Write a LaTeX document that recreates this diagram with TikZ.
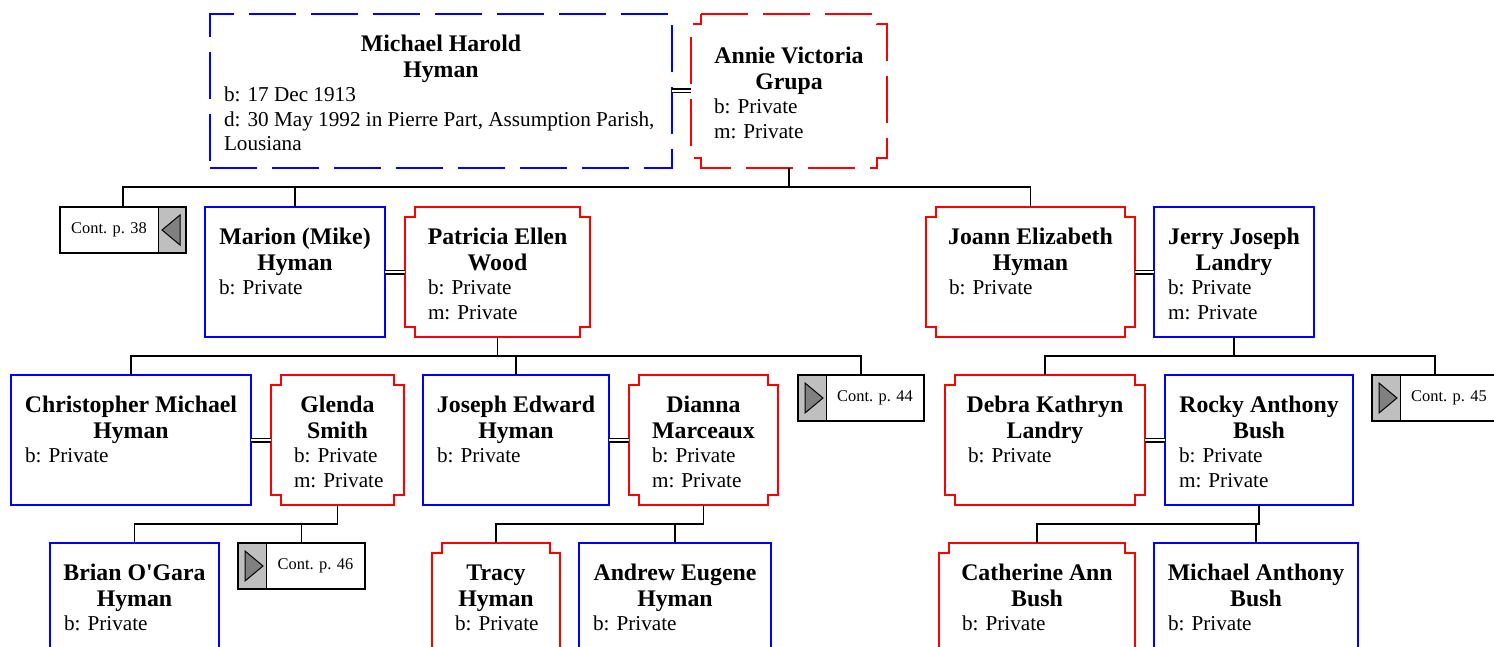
\documentclass[tikz,border=0pt]{standalone}
\usepackage{fontspec}
\setmainfont{Liberation Serif}[Ligatures=TeXOff]

\newlength{\whopad}
\newcommand{\namefont}{\fontsize{23.8pt}{26pt}\selectfont\bfseries}
\newcommand{\infofont}{\fontsize{21.2pt}{24.5pt}\selectfont}
% [top gap]{width}{height}{name}{details}
\newcommand{\who}[5][19pt]{\parbox[c][#3][t]{#2}{\vspace*{#1}%
  {\centering\namefont\strut #4\par}%
  {\raggedright\infofont\leftskip=\whopad #5\par}}}
% red outline with stepped corners round a node
\newcommand{\notch}[2][]{\draw[femaleline,#1] ([xshift=10pt]#2.north west) -- ([xshift=-10pt]#2.north east)
  -- ([xshift=-10pt,yshift=-10pt]#2.north east) -- ([yshift=-10pt]#2.north east)
  -- ([yshift=10pt]#2.south east) -- ([xshift=-10pt,yshift=10pt]#2.south east)
  -- ([xshift=-10pt]#2.south east) -- ([xshift=10pt]#2.south west)
  -- ([xshift=10pt,yshift=10pt]#2.south west) -- ([yshift=10pt]#2.south west)
  -- ([yshift=-10pt]#2.north west) -- ([xshift=10pt,yshift=-10pt]#2.north west) -- cycle;}

\begin{document}
\begin{tikzpicture}[x=1pt,y=-1pt,
  person/.style={anchor=north west,inner sep=0pt,outer sep=0pt,line width=1.6pt},
  male/.style={person,draw=blue,execute at begin node={\setlength{\whopad}{14pt}}},
  female/.style={person,execute at begin node={\setlength{\whopad}{23pt}}},
  femaleline/.style={draw=red,line width=1.6pt},
  dashedbox/.style={dash pattern=on 47pt off 15pt},
  married/.style={double,double distance=2.4pt,line width=1.3pt},
  kin/.style={line width=1.8pt},
  cont/.style={anchor=north west,draw,fill=white,line width=1.6pt,inner sep=0pt,outer sep=0pt,
    minimum width=126pt,minimum height=46pt,font=\fontsize{16.4pt}{18pt}\selectfont},
  contleft/.style={cont,path picture={
    \fill[black!25] ([xshift=-28pt]path picture bounding box.north east) rectangle (path picture bounding box.south east);
    \draw[line width=1pt] ([xshift=-28pt]path picture bounding box.north east) -- ([xshift=-28pt]path picture bounding box.south east);
    \filldraw[fill=black!50,line width=1pt] ([xshift=-6pt,yshift=-8pt]path picture bounding box.north east)
      -- ([xshift=-24pt]path picture bounding box.east) -- ([xshift=-6pt,yshift=8pt]path picture bounding box.south east) -- cycle;}},
  contright/.style={cont,path picture={
    \fill[black!25] (path picture bounding box.north west) rectangle ([xshift=28pt]path picture bounding box.south west);
    \draw[line width=1pt] ([xshift=28pt]path picture bounding box.north west) -- ([xshift=28pt]path picture bounding box.south west);
    \filldraw[fill=black!50,line width=1pt] ([xshift=7pt,yshift=-8pt]path picture bounding box.north west)
      -- ([xshift=25pt]path picture bounding box.west) -- ([xshift=7pt,yshift=8pt]path picture bounding box.south west) -- cycle;}}]
\clip (0,0) rectangle (1494,647);

% first generation
\draw (210,14) node[male,dashedbox] (mh) {\who{462pt}{154pt}{Michael Harold\\Hyman}{b: 17 Dec 1913\\d: 30 May 1992 in Pierre Part, Assumption Parish,\\Lousiana}};
\draw (691,14) node[female] (avg) {\who[31pt]{196pt}{154pt}{Annie Victoria\\Grupa}{b: Private\\m: Private}};
\notch[dashedbox]{avg}

% second generation
\draw (60,207) node[contleft] (cont38) {Cont. p. 38\hspace*{28pt}};
\draw (205,207) node[male] (marion) {\who{180pt}{130pt}{Marion (Mike)\\Hyman}{b: Private}};
\draw (405,207) node[female] (patricia) {\who{185pt}{130pt}{Patricia Ellen\\Wood}{b: Private\\m: Private}};
\notch{patricia}
\draw (926,207) node[female] (joann) {\who{209pt}{130pt}{Joann Elizabeth\\Hyman}{b: Private}};
\notch{joann}
\draw (1154,207) node[male] (jerry) {\who{160pt}{130pt}{Jerry Joseph\\Landry}{b: Private\\m: Private}};

% third generation
\draw (11,375) node[male] (chris) {\who{240pt}{130pt}{Christopher Michael\\Hyman}{b: Private}};
\draw (271,375) node[female] (glenda) {\who{133pt}{130pt}{Glenda\\Smith}{b: Private\\m: Private}};
\notch{glenda}
\draw (423,375) node[male] (joseph) {\who{186pt}{130pt}{Joseph Edward\\Hyman}{b: Private}};
\draw (629,375) node[female] (dianna) {\who{149pt}{130pt}{Dianna\\Marceaux}{b: Private\\m: Private}};
\notch{dianna}
\draw (798,375) node[contright] (cont44) {\hspace*{28pt}Cont. p. 44};
\draw (945,375) node[female] (debra) {\who{200pt}{130pt}{Debra Kathryn\\Landry}{b: Private}};
\notch{debra}
\draw (1165,375) node[male] (rocky) {\who{188pt}{130pt}{Rocky Anthony\\Bush}{b: Private\\m: Private}};
\draw (1372,375) node[contright] (cont45) {\hspace*{28pt}Cont. p. 45};

% fourth generation
\draw (50,543) node[male] (brian) {\who{169pt}{130pt}{Brian O'Gara\\Hyman}{b: Private}};
\draw (238,543) node[contright,minimum width=127pt] (cont46) {\hspace*{28pt}Cont. p. 46};
\draw (432,543) node[female] (tracy) {\who{128pt}{130pt}{Tracy\\Hyman}{b: Private}};
\notch{tracy}
\draw (579,543) node[male] (andrew) {\who{192pt}{130pt}{Andrew Eugene\\Hyman}{b: Private}};
\draw (939,543) node[female] (catherine) {\who{196pt}{130pt}{Catherine Ann\\Bush}{b: Private}};
\notch{catherine}
\draw (1154,543) node[male] (michael) {\who{204pt}{130pt}{Michael Anthony\\Bush}{b: Private}};

% family lines
\coordinate (bar0) at (0,187);
\coordinate (bar1) at (0,356);
\coordinate (bar2) at (0,524);
\draw[married] (mh.east) -- (avg.west);
\draw[kin] (avg.south) -- (avg.south |- bar0);
\draw[kin] (cont38.north) |- (joann.north |- bar0) -- (joann.north);
\draw[kin] (marion.north) -- (marion.north |- bar0);

\draw[married] (marion.east) -- (patricia.west);
\draw[kin] (patricia.south) -- (patricia.south |- bar1);
\draw[kin] (chris.north) |- (cont44.north |- bar1) -- (cont44.north);
\draw[kin] (joseph.north) -- (joseph.north |- bar1);

\draw[married] (joann.east) -- (jerry.west);
\draw[kin] (jerry.south) -- (jerry.south |- bar1);
\draw[kin] (debra.north) |- (cont45.north |- bar1) -- (cont45.north);

\draw[married] (chris.east) -- (glenda.west);
\draw[kin] (brian.north) |- (glenda.south |- bar2) -- (glenda.south);
\draw[kin] (cont46.north) -- (cont46.north |- bar2);

\draw[married] (joseph.east) -- (dianna.west);
\draw[kin] (tracy.north) |- (dianna.south |- bar2) -- (dianna.south);
\draw[kin] (andrew.north) -- (andrew.north |- bar2);

\draw[married] (debra.east) -- (rocky.west);
\draw[kin] (catherine.north) |- (rocky.south |- bar2) -- (rocky.south);
\draw[kin] (michael.north) -- (michael.north |- bar2);
\end{tikzpicture}
\end{document}
